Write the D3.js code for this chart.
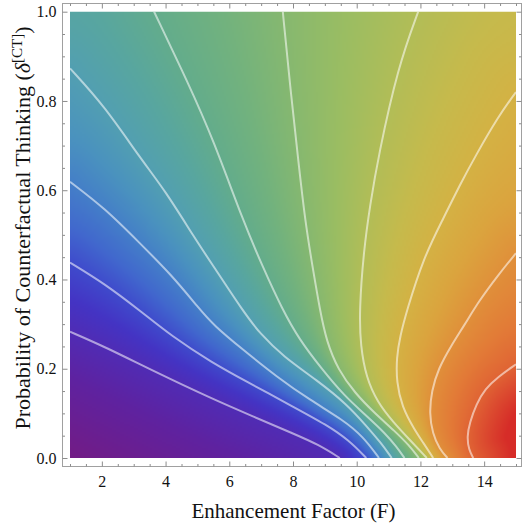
<!DOCTYPE html>
<html>
<head>
<meta charset="utf-8">
<script src="https://cdn.jsdelivr.net/npm/d3@7"></script>
<style>
  html, body { margin: 0; padding: 0; background: #fff; }
  svg { display: block; }
  .axis text { font-family: "Liberation Serif", "Times New Roman", serif; font-size: 16px; fill: #111; }
  .axis line { stroke: #8c8c8c; }
  .axis path { display: none; }
  .title { font-family: "Liberation Serif", "Times New Roman", serif; fill: #111; }
</style>
</head>
<body>
<div id="chart"></div>
<script>
// Contour lines of the response surface, as (F, delta) points, lowest level first.
const contourLevels = [1, 2, 3, 4, 5, 6, 7, 8, 9, 10];
const c1 = [[1,0.283],[2.1,0.249],[3.67,0.193],[5.45,0.133],[6.75,0.093],[8.0,0.055],[8.8,0.03],[9.47,0]];
const c2 = [[1,0.438],[2.1,0.39],[3.2,0.33],[4.19,0.273],[5.45,0.214],[6.55,0.171],[8.0,0.115],[9.06,0.074],[9.75,0.04],[10.3,0]];
const c3 = [[1,0.619],[2.1,0.559],[3.14,0.485],[4.19,0.41],[5.05,0.335],[5.5,0.298],[6.44,0.242],[7.49,0.182],[8.53,0.13],[9.58,0.085],[10.2,0.048],[10.7,0]];
const c4 = [[1,0.873],[2.1,0.787],[3.2,0.672],[3.98,0.6],[4.92,0.492],[5.5,0.43],[6.44,0.328],[6.96,0.279],[7.7,0.227],[8.74,0.175],[9.7,0.12],[10.3,0.072],[10.75,0.035],[11.1,0]];
const c5 = [[3.64,1],[4.71,0.84],[5.5,0.713],[6.44,0.53],[7.07,0.425],[7.65,0.335],[8.2,0.265],[8.9,0.2],[9.6,0.14],[10.3,0.095],[10.9,0.055],[11.25,0.025],[11.5,0]];
const c6 = [[7.68,1],[7.9,0.84],[8.15,0.677],[8.38,0.53],[8.64,0.417],[8.85,0.33],[9.05,0.262],[9.42,0.197],[9.95,0.145],[10.57,0.1],[11.2,0.06],[11.65,0.028],[11.95,0]];
const c7 = [[11.93,1],[11.3,0.877],[10.68,0.677],[10.42,0.567],[10.22,0.465],[10.08,0.33],[10.12,0.25],[10.3,0.18],[10.65,0.125],[11.15,0.08],[11.7,0.038],[12.2,0]];
const c8 = [[15,0.82],[14.44,0.765],[13.73,0.677],[13.29,0.619],[12.67,0.53],[12.09,0.447],[11.57,0.33],[11.36,0.272],[11.25,0.225],[11.25,0.17],[11.42,0.115],[11.8,0.065],[12.1,0.033],[12.4,0]];
const c9 = [[15,0.459],[14.44,0.41],[13.82,0.35],[13.4,0.3],[12.95,0.25],[12.56,0.2],[12.35,0.15],[12.28,0.1],[12.38,0.055],[12.6,0.02],[12.85,0]];
const c10 = [[15,0.21],[14.44,0.182],[14.03,0.155],[13.75,0.12],[13.55,0.08],[13.46,0.048],[13.52,0.018],[13.66,0]];
const contourLines = [c1, c2, c3, c4, c5, c6, c7, c8, c9, c10];

// Axis ticks
const xTickValues = [2, 4, 6, 8, 10, 12, 14];
const yTickValues = [0, 0.2, 0.4, 0.6, 0.8, 1.0];
const xMinorTicks = d3.range(1, 15.01, 0.5).filter(v => v % 2 !== 0);
const yMinorTicks = d3.range(0, 1.001, 0.05).map(v => +v.toFixed(2)).filter(v => Math.round(v * 100) % 20 !== 0);

// Colour ramp along the surface level (purple -> blue -> green -> yellow -> red)
const rampLevels = [-0.8, 0.3, 1, 1.5, 2, 2.5, 3, 3.5, 4, 4.5, 5, 5.5, 6, 6.5, 7, 7.5, 8, 8.5, 9, 9.5, 10, 10.5, 11.2];
const rampColors = ["#721c86", "#5f22a0", "#502cb5", "#4434c4", "#3f4bcc", "#4169cd", "#447fc8", "#4a92bf", "#529fb2", "#58a6a0",
                    "#63ac8c", "#72b27e", "#86b870", "#9bbd62", "#b2bd57", "#c6ba4c", "#d4b244", "#dba43e", "#e0903a", "#e27b37",
                    "#e06434", "#dc4c30", "#d62c28"];

const W = 525, H = 529;
const x = d3.scaleLinear().domain([1, 15]).range([70, 516]);
const y = d3.scaleLinear().domain([0, 1]).range([458, 11.7]);
const color = d3.scaleLinear().domain(rampLevels).range(rampColors).interpolate(d3.interpolateRgb).clamp(true);

const svg = d3.select("#chart").append("svg").attr("width", W).attr("height", H);

const px0 = x(1), px1 = x(15), py0 = y(1), py1 = y(0);
svg.append("defs").append("clipPath").attr("id", "plotClip")
  .append("rect").attr("x", px0).attr("y", py0).attr("width", px1 - px0).attr("height", py1 - py0);

const rasterLayer = svg.append("g").attr("clip-path", "url(#plotClip)");
const lineLayer = svg.append("g").attr("clip-path", "url(#plotClip)");

const lineGen = d3.line().x(d => x(d[0])).y(d => y(d[1])).curve(d3.curveBasis);

const paths = lineLayer.selectAll("path").data(contourLines).join("path")
  .attr("d", lineGen)
  .attr("fill", "none")
  .attr("stroke", "rgba(255,255,255,0.55)")
  .attr("stroke-width", 2)
  .attr("stroke-linejoin", "round");

// Dense pixel polylines following each drawn contour
const dense = paths.nodes().map(node => {
  const L = node.getTotalLength();
  const n = Math.max(2, Math.ceil(L / 2.5));
  const pts = [];
  for (let i = 0; i <= n; i++) { const p = node.getPointAtLength(L * i / n); pts.push([p.x, p.y]); }
  return pts;
});

// Region on the high side of each contour (towards the large-F, low-delta corner)
const BR = [px1 + 3, py1 + 3], TR = [px1 + 3, py0 - 3], TL = [px0 - 3, py0 - 3];
const highSide = contourLines.map((line, i) => {
  const start = line[0];
  let corners;
  if (start[0] === 1) corners = [BR, TR, TL];
  else if (start[1] === 1) corners = [BR, TR];
  else corners = [BR];
  return dense[i].concat(corners);
});

function distToLine(pts, qx, qy) {
  let best = Infinity;
  for (let i = 0; i < pts.length - 1; i++) {
    const ax = pts[i][0], ay = pts[i][1], bx = pts[i + 1][0], by = pts[i + 1][1];
    const dx = bx - ax, dy = by - ay;
    const l2 = dx * dx + dy * dy;
    let t = l2 > 0 ? ((qx - ax) * dx + (qy - ay) * dy) / l2 : 0;
    t = t < 0 ? 0 : t > 1 ? 1 : t;
    const ex = ax + t * dx - qx, ey = ay + t * dy - qy;
    const d = ex * ex + ey * ey;
    if (d < best) best = d;
  }
  return Math.sqrt(best);
}

function surfaceLevel(qx, qy) {
  // number of contours the point lies above (contours are nested)
  let lo = 0, hi = contourLines.length;
  while (lo < hi) {
    const mid = (lo + hi) >> 1;
    if (d3.polygonContains(highSide[mid], [qx, qy])) lo = mid + 1; else hi = mid;
  }
  const k = lo;
  const n = contourLines.length;
  if (k === 0) return contourLevels[0] - distToLine(dense[0], qx, qy) / 62;
  if (k === n) return contourLevels[n - 1] + distToLine(dense[n - 1], qx, qy) / 32;
  const dl = distToLine(dense[k - 1], qx, qy), dh = distToLine(dense[k], qx, qy);
  return contourLevels[k - 1] + (contourLevels[k] - contourLevels[k - 1]) * dl / (dl + dh);
}

// Shaded surface
const step = 2;
const nx = Math.ceil((px1 - px0) / step) + 2, ny = Math.ceil((py1 - py0) / step) + 2;
const canvas = document.createElement("canvas");
canvas.width = nx; canvas.height = ny;
const ctx = canvas.getContext("2d");
const img = ctx.createImageData(nx, ny);
for (let j = 0; j < ny; j++) {
  for (let i = 0; i < nx; i++) {
    const qx = Math.min(px1, px0 + i * step), qy = Math.min(py1, py0 + j * step);
    const c = d3.rgb(color(surfaceLevel(qx, qy)));
    const o = (j * nx + i) * 4;
    img.data[o] = c.r; img.data[o + 1] = c.g; img.data[o + 2] = c.b; img.data[o + 3] = 255;
  }
}
ctx.putImageData(img, 0, 0);
rasterLayer.append("image")
  .attr("x", px0 - step / 2).attr("y", py0 - step / 2)
  .attr("width", nx * step).attr("height", ny * step)
  .attr("preserveAspectRatio", "none")
  .attr("href", canvas.toDataURL());

// Frame
const fx0 = 62, fx1 = 521, fy0 = 3, fy1 = 466;
svg.append("rect").attr("x", fx0 + 0.5).attr("y", fy0 + 0.5).attr("width", fx1 - fx0).attr("height", fy1 - fy0)
  .attr("fill", "none").attr("stroke", "#a0a0a0").attr("stroke-width", 1);

// Axes with inward ticks
const fmtX = d3.format("d"), fmtY = d3.format(".1f");
svg.append("g").attr("class", "axis").attr("transform", `translate(0,${fy1 + 0.5})`)
  .call(d3.axisBottom(x).tickValues(xTickValues).tickSize(-5).tickPadding(9).tickFormat(fmtX));
svg.append("g").attr("class", "axis").attr("transform", `translate(0,${fy1 + 0.5})`)
  .call(d3.axisBottom(x).tickValues(xMinorTicks).tickSize(-2.5).tickFormat(""));
svg.append("g").attr("class", "axis").attr("transform", `translate(0,${fy0 + 0.5})`)
  .call(d3.axisTop(x).tickValues(xTickValues).tickSize(-5).tickFormat(""));
svg.append("g").attr("class", "axis").attr("transform", `translate(0,${fy0 + 0.5})`)
  .call(d3.axisTop(x).tickValues(xMinorTicks).tickSize(-2.5).tickFormat(""));
svg.append("g").attr("class", "axis").attr("transform", `translate(${fx0 + 0.5},0)`)
  .call(d3.axisLeft(y).tickValues(yTickValues).tickSize(-5).tickPadding(6).tickFormat(fmtY));
svg.append("g").attr("class", "axis").attr("transform", `translate(${fx0 + 0.5},0)`)
  .call(d3.axisLeft(y).tickValues(yMinorTicks).tickSize(-2.5).tickFormat(""));
svg.append("g").attr("class", "axis").attr("transform", `translate(${fx1 + 0.5},0)`)
  .call(d3.axisRight(y).tickValues(yTickValues).tickSize(-5).tickFormat(""));
svg.append("g").attr("class", "axis").attr("transform", `translate(${fx1 + 0.5},0)`)
  .call(d3.axisRight(y).tickValues(yMinorTicks).tickSize(-2.5).tickFormat(""));

// Axis titles
svg.append("text").attr("class", "title").attr("font-size", 21)
  .attr("x", (fx0 + fx1) / 2 + 2).attr("y", 518).attr("text-anchor", "middle")
  .text("Enhancement Factor (F)");

const yTitle = svg.append("text").attr("class", "title").attr("font-size", 22)
  .attr("transform", `translate(30,228) rotate(-90)`)
  .attr("text-anchor", "middle");
yTitle.append("tspan").text("Probability of Counterfactual Thinking (");
yTitle.append("tspan").attr("font-style", "italic").text("δ");
yTitle.append("tspan").attr("font-size", "15px").attr("dy", "-8").text("[CT]");
yTitle.append("tspan").attr("dy", "8").text(")");
</script>
</body>
</html>
